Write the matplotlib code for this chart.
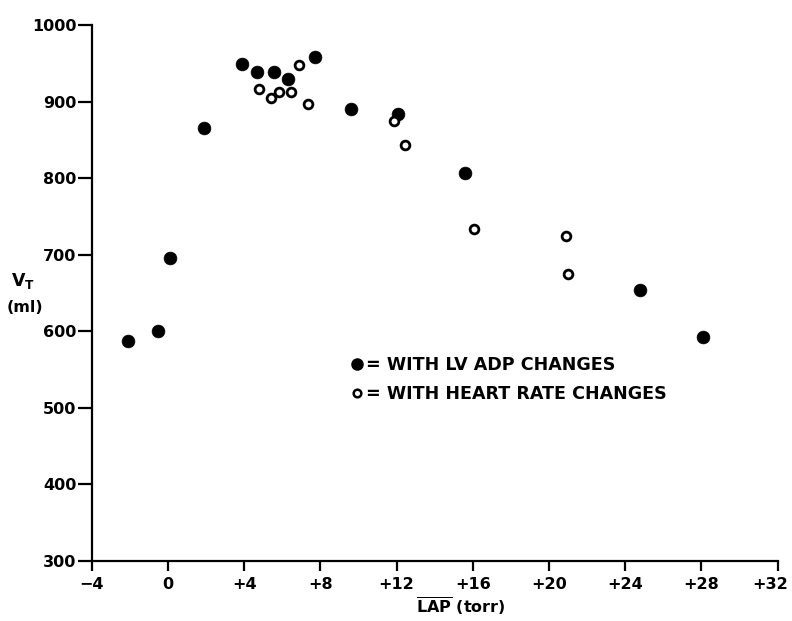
import matplotlib
matplotlib.use("Agg")
import matplotlib.pyplot as plt
import matplotlib.transforms as mtransforms
from matplotlib.lines import Line2D

# Data
lvadp_x = [-2.1, -0.5, 0.1, 1.9, 3.9, 4.65, 5.55, 6.3, 7.7, 9.6, 12.1, 15.6, 24.8, 28.1]
lvadp_y = [587, 600, 696, 865, 949, 938, 939, 930, 958, 890, 884, 807, 654, 592]
hr_x = [4.8, 5.4, 5.85, 6.45, 6.9, 7.35, 11.85, 12.45, 16.05, 20.9, 21.0]
hr_y = [916, 905, 913, 912, 948, 897, 874, 843, 734, 724, 674]

x_ticks = [-4, 0, 4, 8, 12, 16, 20, 24, 28, 32]
x_ticklabels = ["−4", "0", "+4", "+8", "+12", "+16", "+20", "+24", "+28", "+32"]
y_ticks = [300, 400, 500, 600, 700, 800, 900, 1000]
y_ticklabels = ["300", "400", "500", "600", "700", "800", "900", "1000"]

legend_labels = ["= WITH LV ADP CHANGES", "= WITH HEART RATE CHANGES"]

W, H = 792, 621
fig = plt.figure(figsize=(W / 100, H / 100), dpi=100)
fig.patch.set_facecolor("white")

left_px, right_px, top_px, bottom_px = 91.7, 777.7, 25.0, 560.7
ax = fig.add_axes([left_px / W, 1 - bottom_px / H,
                   (right_px - left_px) / W, (bottom_px - top_px) / H])
ax.set_xlim(-4, 32)
ax.set_ylim(300, 1000)

ax.plot(lvadp_x, lvadp_y, linestyle="none", marker="o", ms=9.2, mfc="black",
        mec="black", mew=0.5, clip_on=False)
ax.plot(hr_x, hr_y, linestyle="none", marker="o", ms=6.3, mfc="white",
        mec="black", mew=2.0, clip_on=False)

for s in ["top", "right"]:
    ax.spines[s].set_visible(False)
for s in ["left", "bottom"]:
    ax.spines[s].set_linewidth(1.6)
    ax.spines[s].set_color("black")

ax.set_xticks(x_ticks)
ax.set_xticklabels(x_ticklabels)
ax.set_yticks(y_ticks)
ax.set_yticklabels(y_ticklabels)
ax.tick_params(axis="x", direction="out", length=7, width=1.6, pad=5,
               labelsize=11.5)
ax.tick_params(axis="y", direction="out", length=10, width=1.6, pad=1,
               labelsize=11.5)
for lab in ax.get_xticklabels() + ax.get_yticklabels():
    lab.set_fontweight("bold")
# the last x label sits a little to the left of its tick in the reference
last = ax.get_xticklabels()[-1]
last.set_transform(last.get_transform() +
                   mtransforms.ScaledTranslation(-8 / 100, 0, fig.dpi_scale_trans))

# axis labels
fig.text(461 / W, 1 - 606 / H, r"$\mathbf{\overline{LAP}}$ (torr)",
         ha="center", va="center", fontsize=11.5, fontweight="bold")
fig.text(23 / W, 1 - 281 / H, r"$\mathbf{V_T}$", ha="center", va="center",
         fontsize=12.5)
fig.text(25 / W, 1 - 308 / H, "(ml)", ha="center", va="center",
         fontsize=11.5, fontweight="bold")

handles = [
    Line2D([], [], linestyle="none", marker="o", ms=8, mfc="black", mec="black"),
    Line2D([], [], linestyle="none", marker="o", ms=5.5, mfc="white",
           mec="black", mew=1.8),
]
leg = ax.legend(handles, legend_labels, loc="upper left",
                bbox_to_anchor=(353 / W, 1 - 356 / H),
                bbox_transform=fig.transFigure, frameon=False, numpoints=1,
                handlelength=0.5, handletextpad=0.25, labelspacing=0.62,
                borderpad=0, borderaxespad=0,
                prop={"size": 12.6, "weight": "bold"})

fig.savefig("out.png", dpi=100, facecolor="white")
